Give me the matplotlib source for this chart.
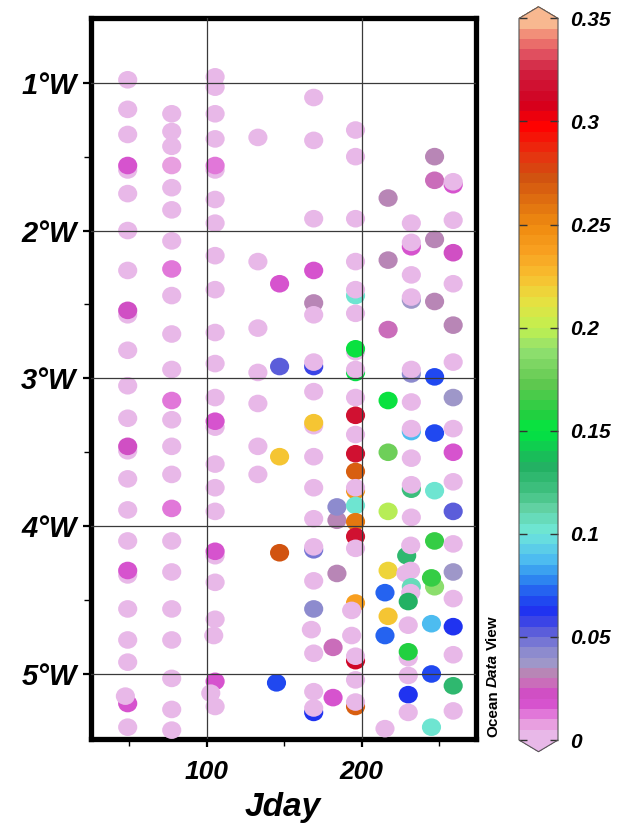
import numpy as np
import matplotlib
matplotlib.use("Agg")
import matplotlib.pyplot as plt
from matplotlib.colors import LinearSegmentedColormap, Normalize
from matplotlib.cm import ScalarMappable
from matplotlib.path import Path

plt.rcParams['font.family'] = ['Liberation Sans', 'DejaVu Sans']

# ---------------- data (Jday, longitude in degrees W, value) ----------------
jday = [
    # column ~ day 49
    49, 49, 49, 49, 49, 49, 49, 49, 49, 49, 49, 49, 49, 49, 49, 49, 49, 49, 49, 49, 49, 49, 49, 49, 47.5, 49,
    # column ~ day 77
    77.4, 77.4, 77.4, 77.4, 77.4, 77.4, 77.4, 77.4, 77.4, 77.4, 77.4, 77.4, 77.4, 77.4, 77.4, 77.4, 77.4, 77.4,
    77.4, 77.4, 77.4, 77.4, 77.4,
    # column ~ day 105
    105.4, 105.4, 105.4, 105.4, 105.4, 105.4, 105.4, 105.4, 105.4, 105.4, 105.4, 105.4, 105.4, 105.4, 105.4,
    105.4, 105.4, 105.4, 105.4, 105.4, 105.4, 105.4, 104.5, 105.4, 102.6, 105.4,
    # column ~ day 133
    133, 133, 133, 133, 133, 133, 133,
    # column ~ day 147
    147, 147, 147, 147, 145,
    # column ~ day 169
    169, 169, 169, 169, 169, 169, 169, 169, 169, 169, 169, 169, 169, 169, 169, 169, 169, 169, 167.5, 169, 169,
    169, 169,
    # column ~ day 183
    184, 184, 184, 181.5, 181.5,
    # column ~ day 196
    196, 196, 196, 196, 196, 196, 196, 196, 196, 196, 196, 196, 196, 196, 196, 196, 196, 196, 196, 196, 196,
    196, 196, 193.5, 193.5, 196, 196, 196, 196, 196,
    # column ~ day 217
    217, 217, 217, 217, 217, 217, 217, 215, 217, 215, 215,
    # column ~ day 232
    232, 232, 232, 232, 232, 232, 232, 232, 232, 232, 232, 232, 232, 232, 232, 229, 231.6, 228.5, 231.5,
    232, 231.6, 230, 230, 230, 230, 230, 230, 230,
    # column ~ day 247
    247, 247, 247, 247, 247, 247, 247, 247, 247, 245, 245, 245, 245,
    # column ~ day 259
    259, 259, 259, 259, 259, 259, 259, 259, 259, 259, 259, 259, 259, 259, 259, 259, 259, 259, 259,
]

lon_w = [
    # day 49
    0.98, 1.18, 1.35, 1.59, 1.56, 1.75, 2.00, 2.27, 2.57, 2.54, 2.81, 3.05, 3.27, 3.49, 3.46, 3.68, 3.89, 4.10,
    4.33, 4.30, 4.56, 4.77, 4.92, 5.20, 5.15, 5.36,
    # day 77
    1.21, 1.33, 1.43, 1.56, 1.71, 1.86, 2.07, 2.26, 2.44, 2.70, 2.94, 3.15, 3.28, 3.46, 3.65, 3.88, 4.10, 4.31,
    4.56, 4.77, 5.03, 5.24, 5.38,
    # day 105
    0.96, 1.03, 1.21, 1.38, 1.59, 1.56, 1.79, 1.95, 2.17, 2.40, 2.69, 2.90, 3.13, 3.33, 3.29, 3.58, 3.74, 3.90,
    4.20, 4.17, 4.38, 4.63, 4.74, 5.05, 5.13, 5.22,
    # day 133
    1.37, 2.21, 2.66, 2.96, 3.17, 3.46, 3.65,
    # day 147
    2.36, 2.92, 3.53, 4.18, 5.06,
    # day 169
    1.10, 1.39, 1.92, 2.27, 2.49, 2.57, 2.92, 2.89, 3.09, 3.32, 3.30, 3.53, 3.74, 3.95, 4.16, 4.14, 4.37, 4.56,
    4.70, 4.86, 5.12, 5.26, 5.23,
    # day 183
    3.96, 3.87, 4.32, 4.82, 5.16,
    # day 196
    1.32, 1.50, 1.92, 2.21, 2.44, 2.40, 2.56, 2.82, 2.80, 2.96, 2.94, 3.13, 3.25, 3.38, 3.51, 3.63, 3.76, 3.74,
    3.86, 3.97, 4.07, 4.15, 4.52, 4.57, 4.74, 4.91, 4.88, 5.04, 5.22, 5.19,
    # day 217
    1.78, 2.20, 2.67, 3.15, 3.50, 3.90, 4.30, 4.45, 4.61, 4.74, 5.37,
    # day 232
    1.95, 2.11, 2.08, 2.30, 2.47, 2.45, 2.97, 2.94, 3.16, 3.36, 3.34, 3.54, 3.75, 3.72, 3.94, 4.20, 4.13, 4.32,
    4.30, 4.41, 4.45, 4.51, 4.67, 4.89, 4.85, 5.01, 5.14, 5.26,
    # day 247
    1.50, 1.66, 2.06, 2.48, 2.99, 3.37, 3.76, 4.10, 4.41, 4.35, 4.66, 5.00, 5.36,
    # day 259
    1.69, 1.67, 1.93, 2.15, 2.36, 2.64, 2.89, 3.13, 3.34, 3.50, 3.70, 3.90, 4.12, 4.31, 4.49, 4.68, 4.87, 5.08,
    5.25,
]

value = [
    # day 49
    0.002, 0.002, 0.002, 0.002, 0.016, 0.002, 0.002, 0.002, 0.002, 0.020, 0.002, 0.002, 0.002, 0.002, 0.020,
    0.002, 0.002, 0.002, 0.002, 0.015, 0.002, 0.002, 0.002, 0.016, 0.002, 0.002,
    # day 77
    0.002, 0.002, 0.002, 0.009, 0.002, 0.002, 0.002, 0.010, 0.002, 0.002, 0.002, 0.010, 0.002, 0.002, 0.002,
    0.012, 0.002, 0.002, 0.002, 0.002, 0.002, 0.002, 0.002,
    # day 105
    0.002, 0.002, 0.002, 0.002, 0.002, 0.013, 0.002, 0.002, 0.002, 0.002, 0.002, 0.002, 0.002, 0.002, 0.018,
    0.002, 0.002, 0.002, 0.002, 0.017, 0.002, 0.002, 0.002, 0.018, 0.002, 0.002,
    # day 133
    0.002, 0.002, 0.002, 0.002, 0.002, 0.002, 0.002,
    # day 147
    0.016, 0.053, 0.223, 0.270, 0.068,
    # day 169
    0.002, 0.002, 0.002, 0.017, 0.034, 0.002, 0.058, 0.002, 0.002, 0.002, 0.224, 0.002, 0.002, 0.002, 0.047,
    0.002, 0.002, 0.043, 0.002, 0.002, 0.002, 0.060, 0.002,
    # day 183
    0.031, 0.043, 0.032, 0.026, 0.017,
    # day 196
    0.002, 0.002, 0.002, 0.002, 0.100, 0.002, 0.002, 0.002, 0.150, 0.148, 0.002, 0.002, 0.318, 0.002, 0.315,
    0.265, 0.240, 0.002, 0.103, 0.255, 0.315, 0.002, 0.237, 0.002, 0.002, 0.310, 0.002, 0.002, 0.268, 0.002,
    # day 217
    0.033, 0.030, 0.026, 0.150, 0.178, 0.196, 0.218, 0.070, 0.220, 0.070, 0.002,
    # day 232
    0.002, 0.016, 0.002, 0.002, 0.036, 0.002, 0.044, 0.002, 0.002, 0.085, 0.002, 0.002, 0.120, 0.002, 0.002,
    0.125, 0.002, 0.002, 0.002, 0.105, 0.002, 0.130, 0.002, 0.002, 0.158, 0.002, 0.062, 0.002,
    # day 247
    0.033, 0.025, 0.030, 0.030, 0.068, 0.068, 0.102, 0.163, 0.188, 0.163, 0.087, 0.068, 0.100,
    # day 259
    0.017, 0.002, 0.002, 0.020, 0.002, 0.031, 0.002, 0.037, 0.002, 0.017, 0.002, 0.050, 0.002, 0.037, 0.002,
    0.062, 0.002, 0.125, 0.002,
]

x_major = [100, 200]
x_minor = [50, 150, 250]
y_major = [1, 2, 3, 4, 5]
y_minor = [1.5, 2.5, 3.5, 4.5]
y_labels = ["1°W", "2°W", "3°W", "4°W", "5°W"]
cbar_ticks = [0, 0.05, 0.1, 0.15, 0.2, 0.25, 0.3, 0.35]
cbar_labels = ["0", "0.05", "0.1", "0.15", "0.2", "0.25", "0.3", "0.35"]

# ODV-like colour scale
cm_nodes = [
    (0.000, "#e8b8e8"), (0.005, "#e8a0e0"), (0.011, "#e070d8"), (0.018, "#d040c8"), (0.023, "#d060c0"),
    (0.029, "#c080b0"), (0.035, "#a098c8"), (0.042, "#8888d0"), (0.050, "#6060d8"), (0.060, "#2030f0"),
    (0.068, "#2050f0"), (0.078, "#3090f0"), (0.087, "#50c0f0"), (0.100, "#70e8d8"), (0.112, "#60d0a0"),
    (0.120, "#40c080"), (0.133, "#20b060"), (0.150, "#00e840"), (0.157, "#20d040"), (0.173, "#60c850"),
    (0.189, "#90e070"), (0.200, "#c0f050"), (0.214, "#e8e040"), (0.225, "#f8c030"), (0.238, "#f8a020"),
    (0.250, "#f08c10"), (0.262, "#e07010"), (0.275, "#d05010"), (0.286, "#e83010"), (0.300, "#ff0000"),
    (0.311, "#d00020"), (0.327, "#d02040"), (0.335, "#e05060"), (0.343, "#f08070"), (0.350, "#f8b890"),
]
vmin, vmax = 0.0, 0.35
cmap = LinearSegmentedColormap.from_list(
    "odv", [((v - vmin) / (vmax - vmin), c) for v, c in cm_nodes], N=70)
norm = Normalize(vmin, vmax)

# ---------------- figure ----------------
W, H = 623, 827
fig = plt.figure(figsize=(W / 100, H / 100), dpi=100)


def fx(px):
    return px / W


def fy(py):
    return 1 - py / H


ax = fig.add_axes([fx(90.5), fy(739), fx(475.5) - fx(90.5), fy(18) - fy(739)])

circ = Path.unit_circle()
ell = Path(circ.vertices * np.array([1.0, 0.92]), circ.codes)
ax.scatter(jday, lon_w, c=value, cmap=cmap, norm=norm, marker=ell, s=190,
           linewidths=0, zorder=3)

ax.set_xlim(25, 273.4)
ax.set_ylim(5.44, 0.562)

for xv in x_major:
    ax.axvline(xv, color="#3a3a3a", lw=0.9, zorder=4)
for yv in y_major:
    ax.axhline(yv, color="#3a3a3a", lw=0.9, zorder=4)

ax.set_xticks(x_major)
ax.set_xticks(x_minor, minor=True)
ax.set_yticks(y_major)
ax.set_yticks(y_minor, minor=True)
ax.set_yticklabels(y_labels)
ax.tick_params(which="major", direction="out", length=6, width=1.6, color="black")
ax.tick_params(which="minor", direction="out", length=5, width=1.0, color="black")
ax.tick_params(axis="x", which="major", labelsize=19, pad=9)
ax.tick_params(axis="y", which="major", labelsize=21, pad=4)
for lbl in ax.get_xticklabels() + ax.get_yticklabels():
    lbl.set_fontweight("bold")
    lbl.set_fontstyle("italic")
for sp in ax.spines.values():
    sp.set_linewidth(3.8)
ax.set_xlabel("Jday", fontsize=24, fontweight="bold", fontstyle="italic", labelpad=6)

# ---------------- colour bar ----------------
cax = fig.add_axes([fx(519), fy(751.7), fx(558) - fx(519), (751.7 - 6.7) / H])
cb = fig.colorbar(ScalarMappable(norm=norm, cmap=cmap), cax=cax, extend="both",
                  extendfrac=0.0162, ticks=cbar_ticks)
cb.set_ticklabels(cbar_labels)
cb.outline.set_linewidth(0.8)
cb.outline.set_edgecolor("#555555")
cax.tick_params(direction="in", left=True, right=True, length=6, width=1.0,
                color="#333333", labelsize=15, pad=9)
for lbl in cax.get_yticklabels():
    lbl.set_fontweight("bold")
    lbl.set_fontstyle("italic")

# "Ocean Data View" vertical label
fig.canvas.draw()
rend = fig.canvas.get_renderer()
inv = fig.transFigure.inverted()
y0 = fy(737)
for s, st in [("Ocean", "normal"), ("Data", "italic"), ("View", "normal")]:
    t = fig.text(fx(493), y0, s, rotation=90, ha="center", va="bottom",
                 fontsize=11, fontweight="bold", fontstyle=st)
    bb = t.get_window_extent(renderer=rend)
    y0 = inv.transform((0, bb.y1 + 3.5))[1]

fig.savefig("out.png", dpi=100)
